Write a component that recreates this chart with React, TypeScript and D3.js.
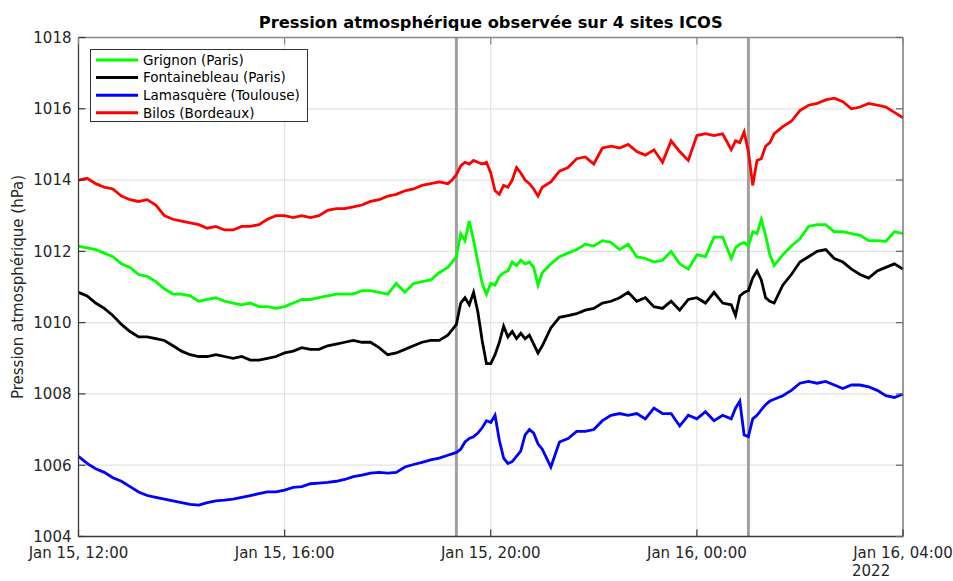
import React from "react";
import * as d3 from "d3";

// minutes after Jan 15 2022, 12:00 UTC
const timesMin: number[] = [
  0, 10, 20, 30, 40, 50, 60, 70, 80, 90, 100, 110, 120, 130, 140, 150, 160, 170, 180, 190,
  200, 210, 220, 230, 240, 250, 260, 270, 280, 290, 300, 310, 320, 330, 340, 350, 360, 370, 380, 390,
  400, 410, 420, 430,
  435, 440, 445, 450, 455, 460, 465, 470, 475, 480, 485, 490, 495, 500, 505, 510, 515, 520, 525, 530, 535, 540,
  550, 560, 570, 580, 590, 600, 610, 620, 630, 640, 650, 660, 670, 680, 690, 700, 710, 720, 730, 740, 750, 760,
  765, 770, 775, 780, 785, 790, 795, 800, 805, 810,
  820, 830, 840, 850, 860, 870, 880, 890, 900, 910, 920, 930, 940, 950, 960,
];

const grignon: number[] = [
  1012.15, 1012.1, 1012.05, 1011.95, 1011.85, 1011.65, 1011.55, 1011.35, 1011.3, 1011.15, 1010.95, 1010.8, 1010.8, 1010.75, 1010.6, 1010.65, 1010.7, 1010.6, 1010.55, 1010.5,
  1010.55, 1010.45, 1010.45, 1010.4, 1010.45, 1010.55, 1010.65, 1010.65, 1010.7, 1010.75, 1010.8, 1010.8, 1010.8, 1010.9, 1010.9, 1010.85, 1010.8, 1011.1, 1010.85, 1011.1,
  1011.15, 1011.2, 1011.4, 1011.55,
  1011.7, 1011.85, 1012.5, 1012.3, 1012.85, 1012.3, 1011.7, 1011.1, 1010.8, 1011.1, 1011.05, 1011.3, 1011.4, 1011.45, 1011.7, 1011.6, 1011.75, 1011.65, 1011.7, 1011.55, 1011.05, 1011.4,
  1011.65, 1011.85, 1011.95, 1012.05, 1012.2, 1012.15, 1012.3, 1012.25, 1012.05, 1012.2, 1011.85, 1011.8, 1011.7, 1011.75, 1012.0, 1011.65, 1011.5, 1011.9, 1011.85, 1012.4, 1012.4, 1011.8,
  1012.1, 1012.2, 1012.25, 1012.15, 1012.55, 1012.5, 1012.9, 1012.45, 1011.9, 1011.6,
  1011.9, 1012.15, 1012.35, 1012.7, 1012.75, 1012.75, 1012.55, 1012.55, 1012.5, 1012.45, 1012.3, 1012.3, 1012.28, 1012.55, 1012.5,
];

const fontainebleau: number[] = [
  1010.85, 1010.75, 1010.55, 1010.4, 1010.2, 1009.95, 1009.75, 1009.6, 1009.6, 1009.55, 1009.5, 1009.35, 1009.2, 1009.1, 1009.05, 1009.05, 1009.1, 1009.05, 1009.0, 1009.05,
  1008.95, 1008.95, 1009.0, 1009.05, 1009.15, 1009.2, 1009.3, 1009.25, 1009.25, 1009.35, 1009.4, 1009.45, 1009.5, 1009.45, 1009.45, 1009.3, 1009.1, 1009.15, 1009.25, 1009.35,
  1009.45, 1009.5, 1009.5, 1009.65,
  1009.8, 1009.95, 1010.55, 1010.7, 1010.5, 1010.85, 1010.3, 1009.5, 1008.85, 1008.85, 1009.1, 1009.45, 1009.9, 1009.6, 1009.75, 1009.55, 1009.7, 1009.55, 1009.65, 1009.4, 1009.15, 1009.35,
  1009.85, 1010.15, 1010.2, 1010.25, 1010.35, 1010.4, 1010.55, 1010.6, 1010.7, 1010.85, 1010.6, 1010.7, 1010.45, 1010.4, 1010.6, 1010.35, 1010.65, 1010.7, 1010.55, 1010.85, 1010.55, 1010.5,
  1010.2, 1010.75, 1010.85, 1010.9, 1011.25, 1011.45, 1011.2, 1010.7, 1010.6, 1010.55,
  1011.05, 1011.35, 1011.7, 1011.85, 1012.0, 1012.05, 1011.8, 1011.7, 1011.5, 1011.35, 1011.25, 1011.45, 1011.55, 1011.65, 1011.5,
];

const lamasquere: number[] = [
  1006.25, 1006.05, 1005.9, 1005.8, 1005.65, 1005.55, 1005.4, 1005.25, 1005.15, 1005.1, 1005.05, 1005.0, 1004.95, 1004.9, 1004.88, 1004.95, 1005.0, 1005.02, 1005.05, 1005.1,
  1005.15, 1005.2, 1005.25, 1005.25, 1005.3, 1005.38, 1005.4, 1005.48, 1005.5, 1005.52, 1005.55, 1005.6, 1005.68, 1005.72, 1005.78, 1005.8, 1005.78, 1005.8, 1005.95, 1006.02,
  1006.08, 1006.15, 1006.2, 1006.28,
  1006.32, 1006.36, 1006.45, 1006.65, 1006.75, 1006.8, 1006.9, 1007.05, 1007.25, 1007.2, 1007.4, 1006.7, 1006.2, 1006.05, 1006.1, 1006.25, 1006.4, 1006.85, 1007.0, 1006.9, 1006.6, 1006.45,
  1005.95, 1006.65, 1006.75, 1006.95, 1006.95, 1007.0, 1007.25, 1007.4, 1007.45, 1007.4, 1007.45, 1007.3, 1007.6, 1007.45, 1007.45, 1007.1, 1007.4, 1007.3, 1007.5, 1007.25, 1007.4, 1007.3,
  1007.6, 1007.8, 1006.85, 1006.8, 1007.3, 1007.4, 1007.55, 1007.7, 1007.8, 1007.85,
  1007.95, 1008.1, 1008.3, 1008.35, 1008.3, 1008.35, 1008.25, 1008.15, 1008.25, 1008.25, 1008.2, 1008.1, 1007.95, 1007.9, 1008.0,
];

const bilos: number[] = [
  1014.0, 1014.05, 1013.9, 1013.8, 1013.75, 1013.55, 1013.45, 1013.4, 1013.45, 1013.3, 1013.0, 1012.9, 1012.85, 1012.8, 1012.75, 1012.65, 1012.7, 1012.6, 1012.6, 1012.7,
  1012.7, 1012.75, 1012.9, 1013.0, 1013.0, 1012.95, 1013.0, 1012.95, 1013.0, 1013.15, 1013.2, 1013.2, 1013.25, 1013.3, 1013.4, 1013.45, 1013.55, 1013.6, 1013.7, 1013.75,
  1013.85, 1013.9, 1013.95, 1013.9,
  1014.0, 1014.15, 1014.4, 1014.5, 1014.45, 1014.55, 1014.5, 1014.45, 1014.5, 1014.2, 1013.7, 1013.6, 1013.85, 1013.8, 1014.0, 1014.35, 1014.2, 1014.0, 1013.9, 1013.75, 1013.55, 1013.8,
  1013.95, 1014.25, 1014.35, 1014.6, 1014.65, 1014.45, 1014.9, 1014.95, 1014.9, 1015.0, 1014.8, 1014.7, 1014.85, 1014.5, 1015.1, 1014.8, 1014.55, 1015.25, 1015.3, 1015.25, 1015.3, 1014.85,
  1015.1, 1015.05, 1015.35, 1014.8, 1013.85, 1014.55, 1014.6, 1014.95, 1015.05, 1015.3,
  1015.5, 1015.65, 1015.95, 1016.1, 1016.15, 1016.25, 1016.3, 1016.2, 1016.0, 1016.05, 1016.15, 1016.1, 1016.05, 1015.9, 1015.75,
];

const seriesNames: string[] = ["Grignon (Paris)", "Fontainebleau (Paris)", "Lamasquère (Toulouse)", "Bilos (Bordeaux)"];
const seriesColors: string[] = ["#00ff00", "#000000", "#0000ff", "#ff0000"];
const seriesValues: number[][] = [grignon, fontainebleau, lamasquere, bilos];

const xTickMin: number[] = [0, 240, 480, 720, 960];
const xTickLabels: string[] = ["Jan 15, 12:00", "Jan 15, 16:00", "Jan 15, 20:00", "Jan 16, 00:00", "Jan 16, 04:00"];
const yTicks: number[] = [1004, 1006, 1008, 1010, 1012, 1014, 1016, 1018];
const eventMin: number[] = [440, 780];

const START = Date.UTC(2022, 0, 15, 12, 0);
const toDate = (m: number) => new Date(START + m * 60000);

export default function App() {
  const W = 953, H = 581;
  const left = 78.5, right = 903, top = 37.5, bottom = 536.5;
  const x = d3.scaleUtc().domain([toDate(0), toDate(960)]).range([left, right]);
  const y = d3.scaleLinear().domain([1004, 1018]).range([bottom, top]);
  const font = "'DejaVu Sans', sans-serif";
  const axisColor = "#3a3a3a";
  const tickLen = 7;

  const line = (vals: number[]) =>
    d3.line<number>()
      .x((_, i) => x(toDate(timesMin[i])))
      .y((v) => y(v))(vals) || "";

  return (
    <svg width={W} height={H} style={{ position: "absolute", left: 0, top: 0, background: "#fff" }}>
      <rect x={0} y={0} width={W} height={H} fill="#fff" />
      {/* grid */}
      {yTicks.slice(1, -1).map((t) => (
        <line key={"gy" + t} x1={left} x2={right} y1={y(t)} y2={y(t)} stroke="#e3e3e3" strokeWidth={1.2} />
      ))}
      {xTickMin.slice(1, -1).map((m) => (
        <line key={"gx" + m} x1={x(toDate(m))} x2={x(toDate(m))} y1={top} y2={bottom} stroke="#e3e3e3" strokeWidth={1.2} />
      ))}
      {/* event lines */}
      {eventMin.map((m) => (
        <line key={"ev" + m} x1={x(toDate(m))} x2={x(toDate(m))} y1={top} y2={bottom} stroke="#a0a0a0" strokeWidth={3} />
      ))}
      {/* data */}
      {seriesValues.map((vals, i) => (
        <path key={seriesNames[i]} d={line(vals)} fill="none" stroke={seriesColors[i]} strokeWidth={2.8} strokeLinejoin="miter" />
      ))}
      {/* axes box */}
      <line x1={left} x2={left} y1={top} y2={bottom} stroke={axisColor} strokeWidth={1.3} />
      <line x1={left} x2={right} y1={bottom} y2={bottom} stroke={axisColor} strokeWidth={1.3} />
      <line x1={right} x2={right} y1={top} y2={bottom} stroke="#666" strokeWidth={1.3} />
      <line x1={left} x2={right} y1={top} y2={top} stroke="#888" strokeWidth={1.3} />
      {/* y ticks */}
      {yTicks.map((t) => (
        <g key={"yt" + t}>
          <line x1={left} x2={left + tickLen} y1={y(t)} y2={y(t)} stroke={axisColor} strokeWidth={1.2} />
          <line x1={right} x2={right - tickLen} y1={y(t)} y2={y(t)} stroke="#666" strokeWidth={1.2} />
          <text x={left - 7} y={y(t)} dy="0.36em" textAnchor="end" fontFamily={font} fontSize={15} fill="#262626">
            {t}
          </text>
        </g>
      ))}
      {/* x ticks */}
      {xTickMin.map((m, i) => (
        <g key={"xt" + m}>
          <line x1={x(toDate(m))} x2={x(toDate(m))} y1={bottom} y2={bottom - tickLen} stroke={axisColor} strokeWidth={1.2} />
          <line x1={x(toDate(m))} x2={x(toDate(m))} y1={top} y2={top + tickLen} stroke="#888" strokeWidth={1.2} />
          <text x={x(toDate(m))} y={558} textAnchor="middle" fontFamily={font} fontSize={15} fill="#262626">
            {xTickLabels[i]}
          </text>
        </g>
      ))}
      <text x={x(toDate(960)) - 51} y={576} textAnchor="start" fontFamily={font} fontSize={15} fill="#262626">2022</text>
      {/* y label */}
      <text transform={`translate(23,${(top + bottom) / 2}) rotate(-90)`} textAnchor="middle" fontFamily={font} fontSize={15} fill="#262626">
        Pression atmosphérique (hPa)
      </text>
      {/* title */}
      <text x={(left + right) / 2} y={28} textAnchor="middle" fontFamily={font} fontSize={16.3} fontWeight="bold" fill="#000">
        Pression atmosphérique observée sur 4 sites ICOS
      </text>
      {/* legend */}
      <rect x={90.5} y={49.5} width={217} height={72} fill="#fff" stroke="#333" strokeWidth={1} />
      {seriesNames.map((n, i) => (
        <g key={"lg" + n}>
          <line x1={96} x2={138} y1={60 + i * 17.6} y2={60 + i * 17.6} stroke={seriesColors[i]} strokeWidth={3} />
          <text x={143} y={60 + i * 17.6} dy="0.36em" fontFamily={font} fontSize={13.5} fill="#000">
            {n}
          </text>
        </g>
      ))}
    </svg>
  );
}
